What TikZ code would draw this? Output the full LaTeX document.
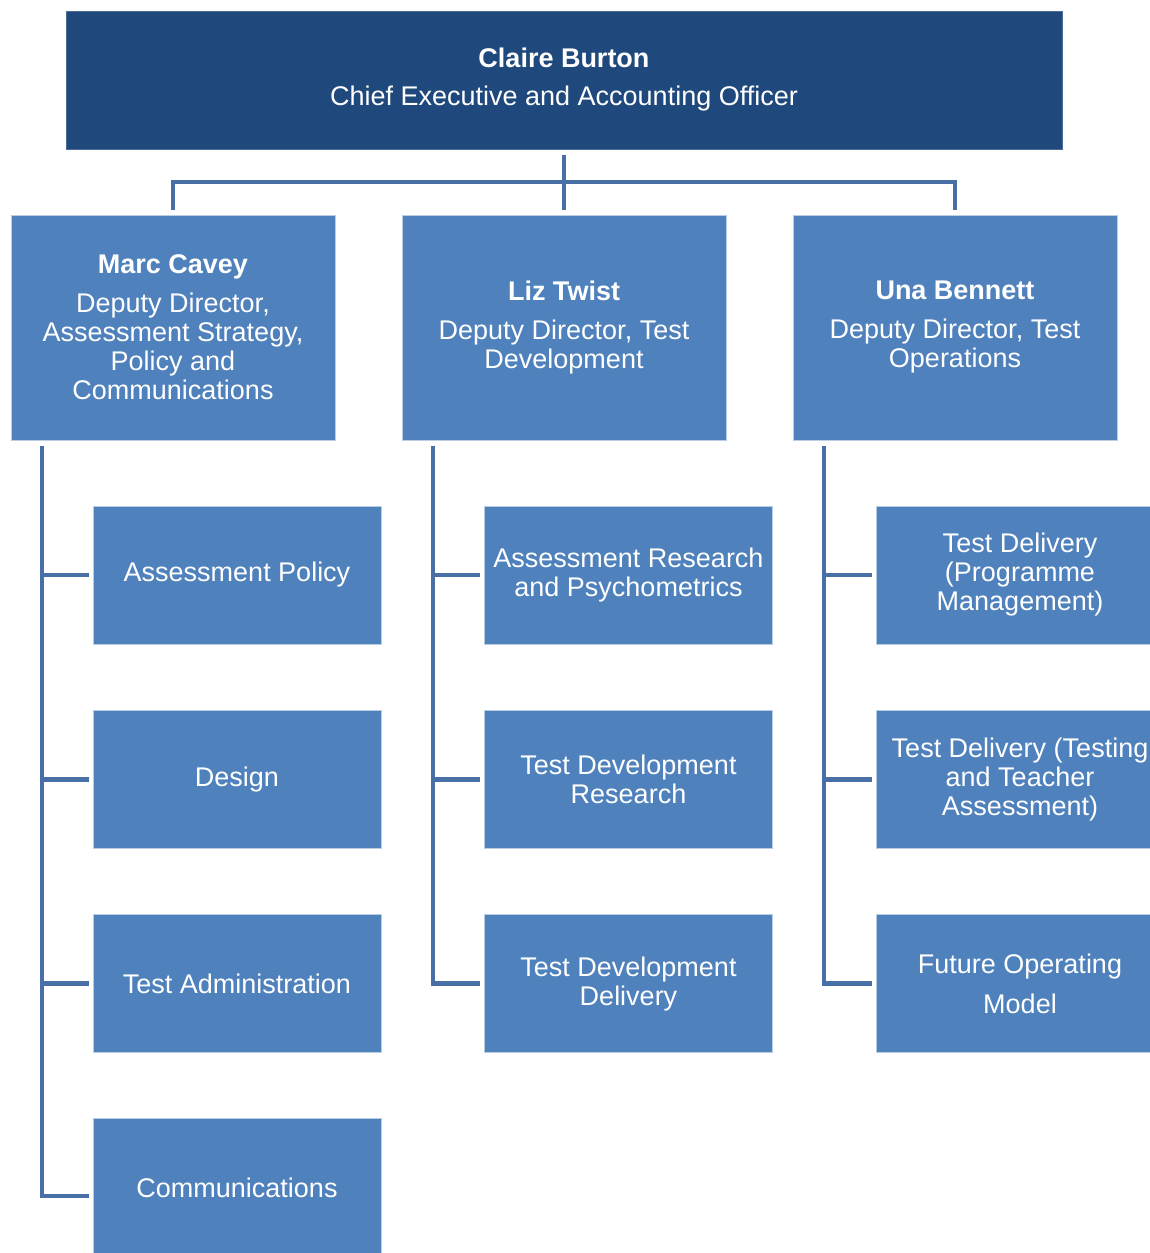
\documentclass[tikz,border=0pt]{standalone}
\usepackage{fontspec}
\setmainfont{Liberation Sans}
\definecolor{chiefblue}{RGB}{31,73,125}
\definecolor{boxblue}{RGB}{79,129,189}
\definecolor{lineblue}{RGB}{72,112,166}
\definecolor{edgeblue}{RGB}{185,205,229}
\tikzset{
x=1pt, y=-1pt,
node distance=204.3pt,
orgbox/.style={rectangle, draw=edgeblue, line width=1pt, outer sep=0pt, inner sep=0pt,
  fill=boxblue, text=white, align=center, font=\fontsize{27}{29}\selectfont},
boss/.style={orgbox, fill=chiefblue, draw=chiefblue!80!white, minimum width=996pt, minimum height=138pt},
deputy/.style={orgbox, minimum width=324pt, minimum height=225pt},
team/.style={orgbox, minimum width=288pt, minimum height=138pt},
link/.style={draw=lineblue, line width=4.5pt},
}

\begin{document}
\begin{tikzpicture}
        \useasboundingbox (0,0) rectangle (1150,1253);
        \fill[white] (0,0) rectangle (1150,1253);
        \clip (0,0) rectangle (1150,1253);

        \node[boss] (ceo) at (564,80) {\textbf{Claire Burton}\\[9pt]Chief Executive and Accounting Officer};

        \node[deputy] (marc) at (173,327.5) {\textbf{Marc Cavey}\\[10pt]Deputy Director,\\Assessment Strategy,\\Policy and\\Communications};
        \node[deputy,right of=marc,node distance=391pt] (liz) {\textbf{Liz Twist}\\[10pt]Deputy Director, Test\\Development};
        \node[deputy,right of=liz,node distance=391pt] (una) {\textbf{Una Bennett}\\[10pt]Deputy Director, Test\\Operations};

        \node[team] (pol) at (237,575) {Assessment Policy};
        \node[team,below of=pol] (des) {Design};
        \node[team,below of=des] (adm) {Test Administration};
        \node[team,below of=adm] (com) {Communications};

        \node[team,right of=pol,node distance=391.5pt] (res) {Assessment Research\\and Psychometrics};
        \node[team,below of=res] (tdr) {Test Development\\Research};
        \node[team,below of=tdr] (tdd) {Test Development\\Delivery};

        \node[team,right of=res,node distance=391.5pt] (prog) {Test Delivery\\(Programme\\Management)};
        \node[team,below of=prog] (tta) {Test Delivery (Testing\\and Teacher\\Assessment)};
        \node[team,below of=tta] (fom) {Future Operating\\[11pt]Model};

        \draw[link] ([yshift=-6pt]ceo.south) -- ([yshift=5pt]liz.north);
        \draw[link] ([yshift=5pt]marc.north) -- ++(0,-28) -| ([yshift=5pt]una.north);

        \coordinate (busm) at ([xshift=31pt,yshift=-6pt]marc.south west);
        \coordinate (busl) at ([xshift=31pt,yshift=-6pt]liz.south west);
        \coordinate (busu) at ([xshift=31pt,yshift=-6pt]una.south west);

        \foreach \t in {pol,des,adm}
            \draw[link] (busm) |- ([xshift=-4pt]\t.west);
        \draw[link] (busm) |- ([xshift=-4pt,yshift=-8pt]com.west);
        \foreach \t in {res,tdr,tdd}
            \draw[link] (busl) |- ([xshift=-4.5pt]\t.west);
        \foreach \t in {prog,tta,fom}
            \draw[link] (busu) |- ([xshift=-4.5pt]\t.west);
    \end{tikzpicture}
\end{document}
